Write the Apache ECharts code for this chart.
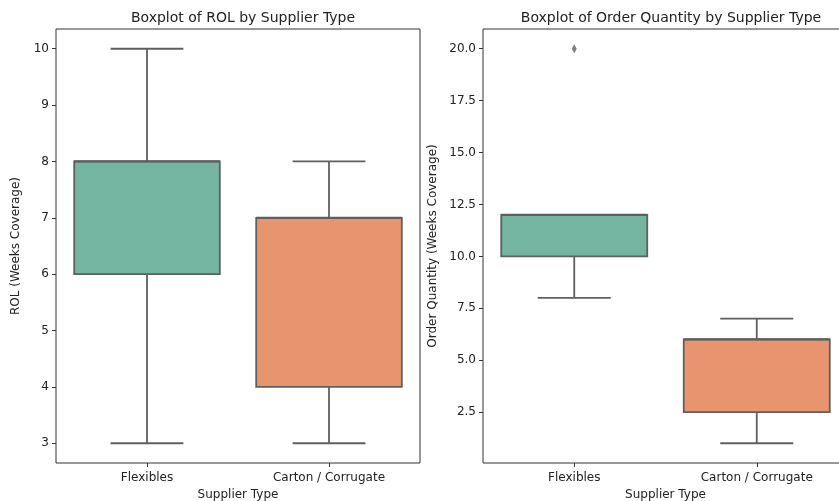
<!DOCTYPE html>
<html>
<head>
<meta charset="utf-8">
<script src="https://cdn.jsdelivr.net/npm/echarts@6/dist/echarts.min.js"></script>
<style>
  html, body { margin: 0; padding: 0; background: #fff; }
  #chart { width: 839px; height: 501px; }
</style>
</head>
<body>
<div id="chart"></div>
<script>
// Supplier types on the category axis
const categories = ['Flexibles', 'Carton / Corrugate'];

// ROL (weeks coverage) five-number summaries per supplier type
const rolLow    = [3, 3];
const rolQ1     = [6, 4];
const rolMedian = [8, 7];
const rolQ3     = [8, 7];
const rolHigh   = [10, 8];

// Order quantity (weeks coverage) five-number summaries per supplier type
const qtyLow    = [8, 1];
const qtyQ1     = [10, 2.5];
const qtyMedian = [12, 6];
const qtyQ3     = [12, 6];
const qtyHigh   = [12, 7];
// Outliers as [category index, value]
const qtyOutliers = [[0, 20]];

// Tick values
const rolTicks = [3, 4, 5, 6, 7, 8, 9, 10];
const qtyTicks = [2.5, 5, 7.5, 10, 12.5, 15, 17.5, 20];

const fills = ['#73b5a1', '#e8956f'];
const edge = '#5f5f5f';
const spine = '#333333';
const textColor = '#222222';
const font = 'DejaVu Sans';

function boxRows(low, q1, med, q3, high) {
  return categories.map((c, i) => [i, low[i], q1[i], med[i], q3[i], high[i]]);
}

// Seaborn-style box: filled box, median line, whiskers with half-width caps
function renderBox(params, api) {
  const idx = api.value(0);
  const band = api.size([1, 0])[0];
  const boxW = band * 0.8;
  const capW = boxW / 2;
  const cx = api.coord([idx, 0])[0];
  const yLow = api.coord([idx, api.value(1)])[1];
  const yQ1 = api.coord([idx, api.value(2)])[1];
  const yMed = api.coord([idx, api.value(3)])[1];
  const yQ3 = api.coord([idx, api.value(4)])[1];
  const yHigh = api.coord([idx, api.value(5)])[1];
  const lineStyle = { stroke: edge, lineWidth: 1.8, fill: null };
  return {
    type: 'group',
    children: [
      { type: 'line', shape: { x1: cx, y1: yQ3, x2: cx, y2: yHigh }, style: lineStyle },
      { type: 'line', shape: { x1: cx, y1: yQ1, x2: cx, y2: yLow }, style: lineStyle },
      { type: 'line', shape: { x1: cx - capW / 2, y1: yHigh, x2: cx + capW / 2, y2: yHigh }, style: lineStyle },
      { type: 'line', shape: { x1: cx - capW / 2, y1: yLow, x2: cx + capW / 2, y2: yLow }, style: lineStyle },
      {
        type: 'rect',
        shape: { x: cx - boxW / 2, y: yQ3, width: boxW, height: yQ1 - yQ3 },
        style: { fill: fills[idx], stroke: edge, lineWidth: 1.8 }
      },
      { type: 'line', shape: { x1: cx - boxW / 2, y1: yMed, x2: cx + boxW / 2, y2: yMed }, style: { stroke: edge, lineWidth: 2.2 } }
    ]
  };
}

const axisText = { color: textColor, fontFamily: font, fontSize: 12 };

function xAxisFor(gridIndex) {
  return {
    type: 'category',
    gridIndex,
    data: categories,
    boundaryGap: true,
    name: 'Supplier Type',
    nameLocation: 'middle',
    nameGap: 26,
    nameTextStyle: { color: textColor, fontFamily: font, fontSize: 12 },
    axisLine: { show: false },
    axisTick: { show: true, alignWithLabel: true, length: 4, lineStyle: { color: spine } },
    axisLabel: Object.assign({ margin: 9 }, axisText),
    splitLine: { show: false }
  };
}

function yAxisFor(gridIndex, min, max, ticks, name, nameGap, fmt) {
  return {
    type: 'value',
    gridIndex,
    min, max,
    name,
    nameLocation: 'middle',
    nameGap,
    nameTextStyle: { color: textColor, fontFamily: font, fontSize: 12 },
    axisLine: { show: false },
    axisTick: { show: true, length: 4, lineStyle: { color: spine }, customValues: ticks },
    axisLabel: Object.assign({ margin: 7, customValues: ticks, formatter: fmt }, axisText),
    splitLine: { show: false }
  };
}

const gridBase = { top: 29, height: 434, show: true, borderColor: spine, borderWidth: 1,
  backgroundColor: 'transparent', containLabel: false, outerBoundsMode: 'none' };

const chart = echarts.init(document.getElementById('chart'), null, { renderer: 'canvas' });
chart.setOption({
  backgroundColor: '#ffffff',
  animation: false,
  title: [
    { text: 'Boxplot of ROL by Supplier Type', left: 238, top: 6, textAlign: 'center',
      textStyle: { color: textColor, fontFamily: font, fontSize: 14, fontWeight: 'normal' } },
    { text: 'Boxplot of Order Quantity by Supplier Type', left: 666, top: 6, textAlign: 'center',
      textStyle: { color: textColor, fontFamily: font, fontSize: 14, fontWeight: 'normal' } }
  ],
  grid: [
    Object.assign({ left: 56, width: 364 }, gridBase),
    Object.assign({ left: 483, width: 365 }, gridBase)
  ],
  xAxis: [xAxisFor(0), xAxisFor(1)],
  yAxis: [
    yAxisFor(0, 2.65, 10.35, rolTicks, 'ROL (Weeks Coverage)', 34, v => String(v)),
    yAxisFor(1, 0.05, 20.95, qtyTicks, 'Order Quantity (Weeks Coverage)', 44, v => v.toFixed(1))
  ],
  series: [
    {
      type: 'custom', xAxisIndex: 0, yAxisIndex: 0,
      renderItem: renderBox,
      encode: { x: 0, y: [1, 2, 3, 4, 5] },
      data: boxRows(rolLow, rolQ1, rolMedian, rolQ3, rolHigh)
    },
    {
      type: 'custom', xAxisIndex: 1, yAxisIndex: 1,
      renderItem: renderBox,
      encode: { x: 0, y: [1, 2, 3, 4, 5] },
      data: boxRows(qtyLow, qtyQ1, qtyMedian, qtyQ3, qtyHigh)
    },
    {
      type: 'scatter', xAxisIndex: 1, yAxisIndex: 1,
      symbol: 'diamond', symbolSize: [5, 9],
      itemStyle: { color: edge },
      data: qtyOutliers
    }
  ]
});
</script>
</body>
</html>
